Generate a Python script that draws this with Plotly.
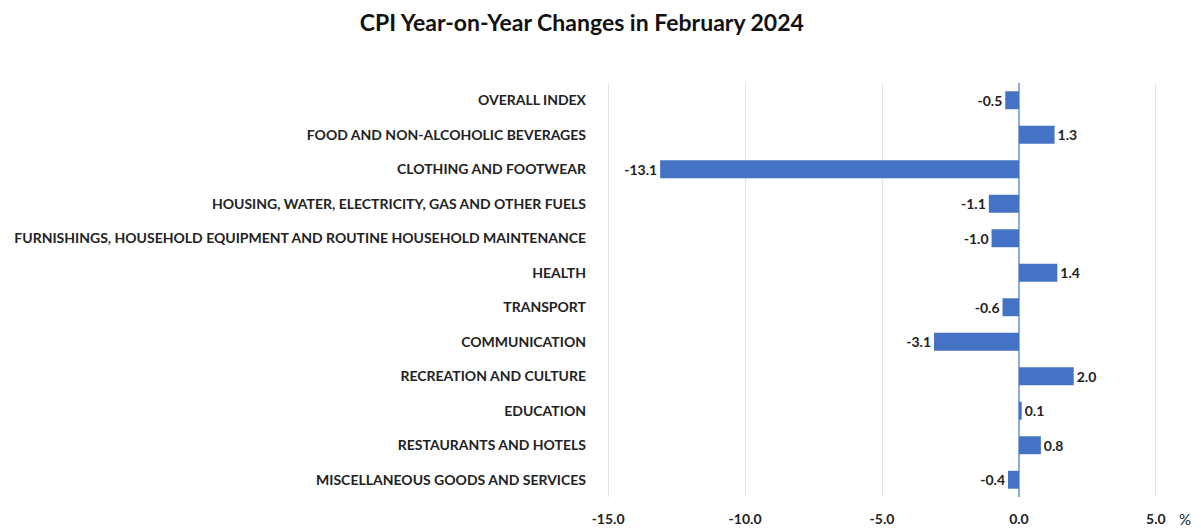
import plotly.graph_objects as go

categories = [
    "OVERALL INDEX",
    "FOOD AND NON-ALCOHOLIC BEVERAGES",
    "CLOTHING AND FOOTWEAR",
    "HOUSING, WATER, ELECTRICITY, GAS AND OTHER FUELS",
    "FURNISHINGS, HOUSEHOLD EQUIPMENT AND ROUTINE HOUSEHOLD MAINTENANCE",
    "HEALTH",
    "TRANSPORT",
    "COMMUNICATION",
    "RECREATION AND CULTURE",
    "EDUCATION",
    "RESTAURANTS AND HOTELS",
    "MISCELLANEOUS GOODS AND SERVICES",
]
values = [-0.5, 1.3, -13.1, -1.1, -1.0, 1.4, -0.6, -3.1, 2.0, 0.1, 0.8, -0.4]
tick_vals = [-15, -10, -5, 0, 5]
tick_text = ["-15.0", "-10.0", "-5.0", "0.0", "5.0"]

FONT = "Lato"

fig = go.Figure()
fig.add_trace(go.Bar(
    y=categories,
    x=values,
    orientation="h",
    marker=dict(color="#4472C4", line=dict(width=0)),
    width=0.52,
    text=[f"{v:.1f}" for v in values],
    textposition="outside",
    textfont=dict(family=FONT, size=14, color="#222222", weight="bold"),
    cliponaxis=False,
))

fig.update_layout(
    width=1193,
    height=523,
    paper_bgcolor="white",
    plot_bgcolor="white",
    showlegend=False,
    margin=dict(l=599, r=44, t=75, b=34),
    title=dict(
        text="<b>CPI Year-on-Year Changes in February 2024</b>",
        x=0.481, xanchor="center", y=0.972, yanchor="middle",
        font=dict(family=FONT, size=23, color="#111111"),
    ),
    xaxis=dict(
        range=[-15.04, 5.04],
        tickvals=tick_vals,
        ticktext=tick_text,
        showgrid=True,
        gridcolor="#E3E3E3",
        gridwidth=1,
        zeroline=True,
        zerolinecolor="#8FAADC",
        zerolinewidth=1.5,
        showline=False,
        tickfont=dict(family=FONT, size=14, color="#222222", weight="bold"),
        ticks="",
        ticklabelstandoff=12,
        fixedrange=True,
        automargin=False,
    ),
    yaxis=dict(
        autorange="reversed",
        tickfont=dict(family=FONT, size=14, color="#222222", weight="bold"),
        ticks="",
        ticklabelstandoff=20,
        showgrid=False,
        fixedrange=True,
        automargin=False,
    ),
    annotations=[dict(
        text="%", xref="paper", yref="paper", x=1.0, y=0, xshift=28, yshift=-22,
        showarrow=False, font=dict(family=FONT, size=15, color="#222222"),
        xanchor="center", yanchor="middle",
    )],
)

fig.write_html("out.html")
